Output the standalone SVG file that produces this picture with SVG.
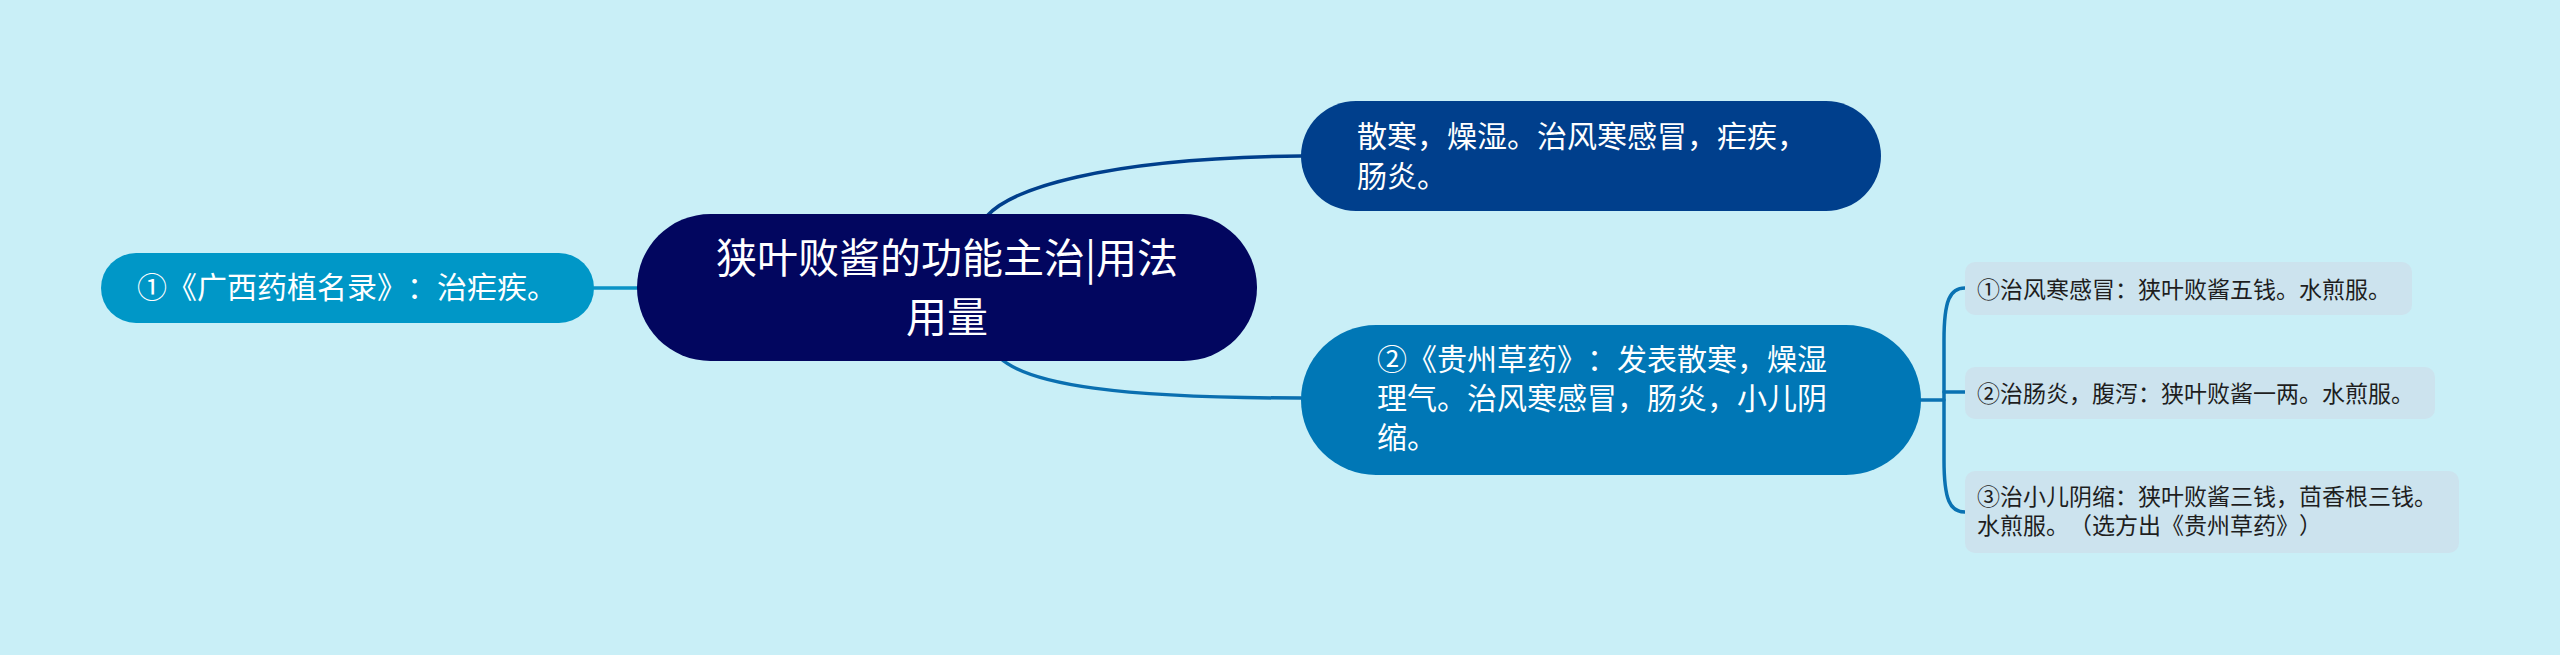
<svg xmlns="http://www.w3.org/2000/svg" width="2560" height="655" viewBox="0 0 2560 655">
<style>
text{font-family:"Noto Sans CJK SC","Noto Sans",sans-serif;text-spacing-trim:space-all}
.w{fill:#ffffff}
.c{font-size:41px}
.m{font-size:30px}
.l{font-size:23px;fill:#1e1e1e}
.leaf{fill:#cce3ee}
.cn{fill:none;stroke-width:3.5;stroke-linecap:round}
</style>
<rect width="2560" height="655" fill="#c9eff7"/>
<g id="connectors">
<path class="cn" stroke="#0a93c6" d="M594 288 L660 288"/>
<path class="cn" stroke="#003f8c" d="M987 216 C1010 190 1100 158 1301 156"/>
<path class="cn" stroke="#0a6fb0" d="M1000 358 C1030 385 1120 398 1301 398"/>
<path class="cn" stroke="#0a72b2" d="M1915 400 L1944 400"/>
<path class="cn" stroke="#0a72b2" d="M1965 288 C1950 288 1944 300 1944 340 L1944 460 C1944 500 1950 512 1965 512"/>
<path class="cn" stroke="#0a72b2" d="M1944 392 L1965 392"/>
</g>
<g id="center">
<rect x="637" y="214" width="620" height="147" rx="73.5" fill="#02065f"/>
<text class="w c" x="947" y="273" text-anchor="middle">狭叶败酱的功能主治|用法</text>
<text class="w c" x="947" y="332" text-anchor="middle">用量</text>
</g>
<g id="left1">
<rect x="101" y="253" width="493" height="70" rx="35" fill="#0097c7"/>
<text class="w m" x="137" y="298">①《广西药植名录》：治疟疾。</text>
</g>
<g id="top1">
<rect x="1301" y="101" width="580" height="110" rx="55" fill="#003f8c"/>
<text class="w m" x="1357" y="147">散寒，燥湿。治风寒感冒，疟疾，</text>
<text class="w m" x="1357" y="187">肠炎。</text>
</g>
<g id="bottom1">
<rect x="1301" y="325" width="620" height="150" rx="75" fill="#0077b6"/>
<text class="w m" x="1377" y="370">②《贵州草药》：发表散寒，燥湿</text>
<text class="w m" x="1377" y="409">理气。治风寒感冒，肠炎，小儿阴</text>
<text class="w m" x="1377" y="448">缩。</text>
</g>
<g id="leaf1">
<rect class="leaf" x="1965" y="262" width="447" height="53" rx="10"/>
<text class="l" x="1977" y="298">①治风寒感冒：狭叶败酱五钱。水煎服。</text>
</g>
<g id="leaf2">
<rect class="leaf" x="1965" y="367" width="470" height="52" rx="10"/>
<text class="l" x="1977" y="402">②治肠炎，腹泻：狭叶败酱一两。水煎服。</text>
</g>
<g id="leaf3">
<rect class="leaf" x="1965" y="471" width="494" height="82" rx="10"/>
<text class="l" x="1977" y="505">③治小儿阴缩：狭叶败酱三钱，茴香根三钱。</text>
<text class="l" x="1977" y="534">水煎服。（选方出《贵州草药》）</text>
</g>
</svg>
